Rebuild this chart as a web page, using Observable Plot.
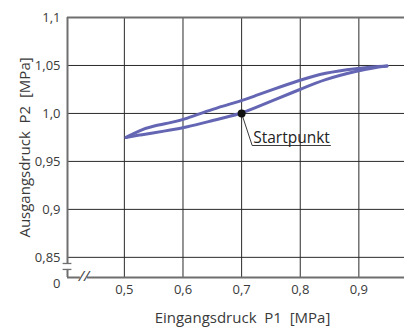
<!DOCTYPE html>
<html>
<head>
<meta charset="utf-8">
<script src="https://cdn.jsdelivr.net/npm/d3@7"></script>
<script src="https://cdn.jsdelivr.net/npm/@observablehq/plot@0.6"></script>
<style>
  html, body { margin: 0; padding: 0; background: #fff; overflow: hidden; width: 404px; height: 334px; }
</style>
</head>
<body>
<div id="chart"></div>
<script>
// Upper branch of the hysteresis loop (P1 in MPa, P2 in MPa)
const upperP1 = [0.503, 0.527, 0.55, 0.579, 0.604, 0.65, 0.70, 0.723, 0.75, 0.80, 0.84, 0.90, 0.925, 0.948];
const upperP2 = [0.975, 0.9827, 0.9872, 0.9903, 0.994, 1.0046, 1.0132, 1.0184, 1.0243, 1.0348, 1.0424, 1.0473, 1.0486, 1.0494];
// Lower branch
const lowerP1 = [0.503, 0.527, 0.55, 0.579, 0.604, 0.65, 0.70, 0.723, 0.75, 0.80, 0.84, 0.90, 0.925, 0.948];
const lowerP2 = [0.975, 0.9776, 0.9798, 0.9827, 0.9854, 0.9925, 1.0, 1.0058, 1.0128, 1.025, 1.0354, 1.0448, 1.0476, 1.0494];

// Start point and its callout
const startP1 = 0.7;
const startP2 = 1.0;
const startLabel = "Startpunkt";
const leaderP1 = [0.7, 0.718, 0.8515];
const leaderP2 = [1.0, 0.9666, 0.9666];

// Ticks
const xTicks = [0.5, 0.6, 0.7, 0.8, 0.9, 1.0];
const xTickLabels = ["0,5", "0,6", "0,7", "0,8", "0,9", "1,0"];
const yTicks = [0.85, 0.9, 0.95, 1.0, 1.05, 1.1];
const yTickLabels = ["0,85", "0,9", "0,95", "1,0", "1,05", "1,1"];
const originLabel = "0";

// Axis titles
const xTitle = "Eingangsdruck  P1  [MPa]";
const yTitle = "Ausgangsdruck  P2  [MPa]";

// Domains (axis broken near origin)
const xDomain = [0.403, 1.0];
const yDomain = [0.829, 1.1];

// Axis break marks (in data units)
const yBreakP2 = [0.8436, 0.8374];
const xBreakP1 = [0.425, 0.437];

const upper = upperP1.map((x, i) => ({x, y: upperP2[i]}));
const lower = lowerP1.map((x, i) => ({x, y: lowerP2[i]}));
const leader = leaderP1.map((x, i) => ({x, y: leaderP2[i]}));
const xTickData = xTicks.map((x, i) => ({x, label: xTickLabels[i]}));
const yTickData = yTicks.map((y, i) => ({y, label: yTickLabels[i]}));

const curveColor = "#6466b3";
const gridColor = "#2a2a2a";
const frameColor = "#6f6f6f";
const textColor = "#3a3a3a";
const font = "Open Sans, sans-serif";

const chart = Plot.plot({
  width: 430,
  height: 334,
  marginLeft: 67,
  marginRight: 13,
  marginTop: 17,
  marginBottom: 57,
  style: {maxWidth: "none", fontFamily: font, fontSize: "13px", color: textColor, background: "#fff"},
  x: {domain: xDomain, axis: null},
  y: {domain: yDomain, axis: null},
  marks: [
    // grid
    Plot.ruleX(xTicks, {y1: yDomain[0], y2: yDomain[1], stroke: gridColor, strokeWidth: 1}),
    Plot.ruleY(yTicks.filter(v => v < 1.1), {x1: xDomain[0], x2: xDomain[1] + 0.1, stroke: gridColor, strokeWidth: 1}),
    // frame: top, left (with break), bottom (with break)
    Plot.ruleY([yDomain[1]], {x1: xDomain[0], x2: xDomain[1] + 0.1, stroke: frameColor, strokeWidth: 2}),
    Plot.ruleX([xDomain[0]], {y1: yBreakP2[0], y2: yDomain[1], stroke: frameColor, strokeWidth: 2}),
    Plot.ruleX([xDomain[0]], {y1: yDomain[0], y2: yBreakP2[1], stroke: frameColor, strokeWidth: 2}),
    Plot.ruleY([yDomain[0]], {x1: xDomain[0], x2: xBreakP1[0], stroke: frameColor, strokeWidth: 2}),
    Plot.ruleY([yDomain[0]], {x1: xBreakP1[1], x2: xDomain[1] + 0.1, stroke: frameColor, strokeWidth: 2}),
    // y break marks
    Plot.ruleY(yBreakP2, {x1: xDomain[0] - 0.0075, x2: xDomain[0] + 0.0075, stroke: frameColor, strokeWidth: 1.3}),
    // x break marks (slashes)
    Plot.text(["//"], {x: (xBreakP1[0] + xBreakP1[1]) / 2, y: yDomain[0], fill: "#444", fontSize: 15, fontStyle: "italic", dy: -1}),
    // curves
    Plot.line(upper, {x: "x", y: "y", curve: "basis", stroke: curveColor, strokeWidth: 3}),
    Plot.line(lower, {x: "x", y: "y", curve: "basis", stroke: curveColor, strokeWidth: 3}),
    // start point callout
    Plot.line(leader, {x: "x", y: "y", stroke: "#222", strokeWidth: 0.9}),
    Plot.dot([{x: startP1, y: startP2}], {x: "x", y: "y", r: 4, fill: "#111", stroke: "none"}),
    Plot.text([startLabel], {x: leaderP1[1], y: leaderP2[1], textAnchor: "start", lineAnchor: "bottom", dx: 1, dy: -2, fontSize: 15.5, fill: "#222"}),
    // tick labels
    Plot.text(xTickData, {x: "x", y: yDomain[0], text: "label", dy: 12, fontSize: 13, fill: textColor}),
    Plot.text(yTickData, {x: xDomain[0], y: "y", text: "label", textAnchor: "end", dx: -7, fontSize: 13, fill: textColor}),
    Plot.text([originLabel], {x: xDomain[0], y: yDomain[0], textAnchor: "end", dx: -7, dy: 6, fontSize: 13, fill: textColor}),
    // axis titles
    Plot.text([xTitle], {frameAnchor: "bottom", textAnchor: "middle", dy: 45, fontSize: 15, fill: textColor}),
    Plot.text([yTitle], {frameAnchor: "left", textAnchor: "middle", rotate: -90, dx: -42, fontSize: 15, fill: textColor})
  ]
});
document.getElementById("chart").appendChild(chart);
</script>
</body>
</html>
